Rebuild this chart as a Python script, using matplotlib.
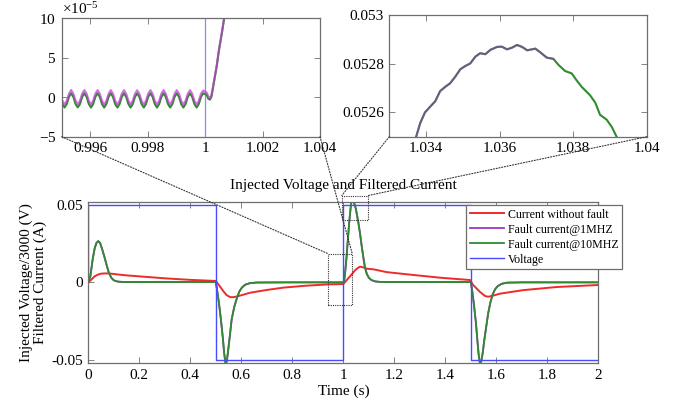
import numpy as np
import matplotlib
matplotlib.use('Agg')
import matplotlib.pyplot as plt
from matplotlib.patches import Rectangle, ConnectionPatch
from matplotlib.ticker import FormatStrFormatter, ScalarFormatter

plt.rcParams['font.family'] = ['Liberation Serif', 'DejaVu Serif']
plt.rcParams['mathtext.fontset'] = 'stix'
plt.rcParams['mathtext.default'] = 'regular'
plt.rcParams['axes.unicode_minus'] = False

# ---- main traces ----
volt_t = [0, 0, 0.5, 0.5, 1.0, 1.0, 1.5, 1.5, 2.0]
volt_v = [0, 0.05, 0.05, -0.05, -0.05, 0.05, 0.05, -0.05, -0.05]

nofault_t = [0, 0.01, 0.0235, 0.035, 0.05, 0.069, 0.09, 0.109, 0.15, 0.213, 0.3, 0.4, 0.5,
             0.51, 0.52, 0.529, 0.542, 0.556, 0.568, 0.59, 0.634, 0.7, 0.765, 0.85, 0.941, 1.0,
             1.012, 1.023, 1.033, 1.046, 1.059, 1.066, 1.08, 1.092, 1.118, 1.17, 1.249, 1.38, 1.497,
             1.508, 1.52, 1.536, 1.556, 1.568, 1.585, 1.614, 1.706, 1.837, 2.0]
nofault_v = [0, 0.0015, 0.0037, 0.0048, 0.0056, 0.0058, 0.0056, 0.0052, 0.0045, 0.0037, 0.0026, 0.0016, 0.0009,
             -0.0013, -0.0035, -0.0056, -0.0082, -0.0095, -0.0096, -0.0088, -0.0067, -0.0049, -0.0034, -0.0022, -0.0013, -0.0011,
             0.0012, 0.0033, 0.0052, 0.0078, 0.0095, 0.0101, 0.0096, 0.0088, 0.0084, 0.0066, 0.0052, 0.003, 0.0015,
             -0.0015, -0.0035, -0.0062, -0.0088, -0.0093, -0.0087, -0.0073, -0.005, -0.003, -0.0017]

fault_t = [0, 0.008, 0.017, 0.025, 0.032, 0.039, 0.046, 0.055, 0.063, 0.072, 0.08, 0.09, 0.1, 0.115, 0.14, 0.3, 0.5,
           0.505, 0.512, 0.52, 0.527, 0.533, 0.538, 0.543, 0.549, 0.556, 0.562, 0.572, 0.582, 0.592, 0.602, 0.615, 0.634, 0.66, 0.8, 1.0,
           1.003, 1.008, 1.013, 1.018, 1.023, 1.028, 1.031, 1.0337, 1.0365, 1.0392, 1.043, 1.049, 1.054, 1.059, 1.066, 1.072, 1.079,
           1.085, 1.092, 1.1, 1.11, 1.125, 1.15, 1.5,
           1.505, 1.512, 1.52, 1.526, 1.531, 1.536, 1.541, 1.547, 1.553, 1.56, 1.568, 1.576, 1.585, 1.595, 1.605, 1.62, 1.641, 1.7, 2.0]
fault_10mhz = [0, 0.004, 0.0148, 0.022, 0.0255, 0.0266, 0.0255, 0.021, 0.0165, 0.011, 0.0065, 0.003, 0.0013, 0.0005, 0.0002, 0.0002, 0.0002,
               -0.005, -0.013, -0.024, -0.035, -0.046, -0.0525, -0.051, -0.043, -0.033, -0.024, -0.016, -0.0105, -0.006, -0.0034, -0.0015, -0.0005, -0.0001, 0, 0,
               0.0005, 0.008, 0.017, 0.028, 0.0385, 0.047, 0.0512, 0.0525, 0.05287, 0.0525, 0.0508, 0.0475, 0.043, 0.0385, 0.031, 0.0235, 0.0155,
               0.0095, 0.0055, 0.003, 0.0015, 0.0006, 0.0002, 0.0002,
               -0.005, -0.014, -0.026, -0.038, -0.047, -0.0525, -0.051, -0.045, -0.037, -0.029, -0.02, -0.0135, -0.008, -0.0045, -0.0025, -0.001, -0.0002, 0, 0]
fault_1mhz = fault_10mhz  # the two fault traces coincide at this scale

# ---- zoom 1: small ripple just before t = 1 s (values in 1e-5) ----
ripple_t = list(np.linspace(0.99487, 0.99993, 67)) + [1.00005, 1.00011, 1.00017, 1.00022, 1.0003,
                                                       1.0004, 1.00048, 1.00058, 1.00066, 1.0008]
ripple_1mhz = [0.9, 0.45, -0.45, -0.9, -0.45, 0.45, 0.92, 0.45, -0.45, -0.88, -0.45, 0.45,
               0.9, 0.46, -0.44, -0.9, -0.45, 0.45, 0.9, 0.45, -0.45, -0.9, -0.46, 0.44,
               0.9, 0.45, -0.45, -0.9, -0.45, 0.45, 0.9, 0.45, -0.45, -0.9, -0.45, 0.45,
               0.88, 0.44, -0.46, -0.9, -0.45, 0.45, 0.9, 0.45, -0.45, -0.9, -0.45, 0.45,
               0.9, 0.45, -0.45, -0.9, -0.45, 0.45, 0.9, 0.45, -0.45, -0.9, -0.45, 0.45,
               0.9, 0.45, -0.45, -0.9, -0.45, 0.45, 0.85,
               0.6, 0.1, -0.1, 0.3, 1.9, 4.0, 6.0, 8.2, 10.0, 13.5]
ripple_10mhz = [0.5, 0.05, -0.85, -1.3, -0.85, 0.05, 0.5, 0.05, -0.85, -1.28, -0.85, 0.05,
                0.5, 0.06, -0.84, -1.3, -0.85, 0.05, 0.5, 0.05, -0.85, -1.3, -0.86, 0.04,
                0.5, 0.05, -0.85, -1.3, -0.85, 0.05, 0.5, 0.05, -0.85, -1.3, -0.85, 0.05,
                0.48, 0.04, -0.86, -1.3, -0.85, 0.05, 0.5, 0.05, -0.85, -1.3, -0.85, 0.05,
                0.5, 0.05, -0.85, -1.3, -0.85, 0.05, 0.5, 0.05, -0.85, -1.3, -0.85, 0.05,
                0.5, 0.05, -0.85, -1.3, -0.85, 0.05, 0.5,
                0.3, -0.2, -0.3, 0.1, 1.8, 3.9, 6.0, 8.1, 10.0, 13.5]

# ---- zoom 2: top of the fault peak after t = 1 s ----
peak_t = [1.0336, 1.03373, 1.03384, 1.03397, 1.03409, 1.03425, 1.03438, 1.03452, 1.03465, 1.03479,
          1.03493, 1.03506, 1.0352, 1.03534, 1.03547, 1.03561, 1.03575, 1.03593, 1.03606, 1.0362,
          1.03634, 1.03647, 1.03661, 1.03675, 1.03688, 1.03697, 1.03711, 1.03728, 1.03746, 1.0376,
          1.03778, 1.03796, 1.0381, 1.03823, 1.03846, 1.0386, 1.03873, 1.03891, 1.03905, 1.03918, 1.0393]
peak_v = [0.05246, 0.0525, 0.052556, 0.0526, 0.05262, 0.052646, 0.052687, 0.052705, 0.052719, 0.052746,
          0.052777, 0.05279, 0.052801, 0.052829, 0.052843, 0.052839, 0.052857, 0.052869, 0.05287, 0.052859,
          0.052866, 0.052877, 0.052869, 0.052855, 0.052859, 0.052862, 0.052846, 0.052825, 0.05282, 0.052795,
          0.05277, 0.05276, 0.05273, 0.052705, 0.05267, 0.05264, 0.05259, 0.05257, 0.05254, 0.0525, 0.05246]

RED = '#ee2b2b'
PURPLE = '#a035c0'
GREEN = '#2e8b2e'
BLUE = '#4a4aff'
FRAME = '#6e6e6e'


def style(ax):
    for s in ax.spines.values():
        s.set_color(FRAME)
        s.set_linewidth(0.9)
    ax.tick_params(direction='in', top=True, right=True, length=4, width=0.6,
                   color=FRAME, labelsize=11, pad=4)


fig = plt.figure(figsize=(6.81, 4.07), dpi=100)

# main axes
ax = fig.add_axes([0.1297, 0.1081, 0.7489, 0.3963])
ax.plot(nofault_t, nofault_v, color=RED, lw=1.4, label='Current without fault')
ax.plot(fault_t, fault_1mhz, color=PURPLE, lw=1.3, label='Fault current@1MHZ')
ax.plot(fault_t, fault_10mhz, color=GREEN, lw=1.3, label='Fault current@10MHZ')
ax.plot(volt_t, volt_v, color=BLUE, lw=1.0, label='Voltage')
ax.set_xlim(0, 2)
ax.set_ylim(-0.052, 0.052)
ax.set_xticks(np.arange(0, 2.01, 0.2))
ax.set_yticks([-0.05, 0, 0.05])
ax.xaxis.set_major_formatter(FormatStrFormatter('%g'))
ax.yaxis.set_major_formatter(FormatStrFormatter('%g'))
style(ax)
ax.set_title('Injected Voltage and Filtered Current', fontsize=11, pad=9)
ax.set_xlabel('Time (s)', fontsize=11, labelpad=2)
ax.set_ylabel('Injected Voltage/3000 (V)\nFiltered Current (A)', fontsize=11, labelpad=3,
              linespacing=1.05)
leg = ax.legend(loc='upper left', bbox_to_anchor=(0.7406, 0.9795), borderaxespad=0,
                fontsize=8.6, fancybox=False, framealpha=1, edgecolor=FRAME,
                handlelength=2.9, handletextpad=0.3, labelspacing=0.25, borderpad=0.3)
leg.get_frame().set_linewidth(0.9)

# zoom boxes on the main axes
box1 = (0.94, -0.0145, 0.095, 0.033)
box2 = (0.994, 0.040, 0.104, 0.016)
for bx in (box1, box2):
    ax.add_patch(Rectangle(bx[:2], bx[2], bx[3], fill=False, ec='#333333', lw=0.8,
                           ls=(0, (1, 1)), clip_on=False, zorder=5))

# inset 1
ax1 = fig.add_axes([0.0906, 0.6641, 0.3793, 0.2909])
ax1.plot(volt_t, volt_v, color='#8c8ce8', lw=0.9)
ax1.plot(ripple_t, np.array(ripple_10mhz) * 1e-5, color=GREEN, lw=1.5)
ax1.plot(ripple_t, np.array(ripple_1mhz) * 1e-5, color='#c040d0', lw=1.5, alpha=0.75)
ax1.set_xlim(0.995, 1.004)
ax1.set_ylim(-5e-5, 10e-5)
ax1.set_xticks([0.996, 0.998, 1.0, 1.002, 1.004])
ax1.set_yticks([-5e-5, 0, 5e-5, 10e-5])
ax1.xaxis.set_major_formatter(FormatStrFormatter('%g'))
sf = ScalarFormatter(useMathText=True)
sf.set_powerlimits((-5, -5))
ax1.yaxis.set_major_formatter(sf)
ax1.yaxis.get_offset_text().set_fontsize(11)
style(ax1)

# inset 2
ax2 = fig.add_axes([0.5717, 0.6641, 0.378, 0.299])
ax2.plot(peak_t, peak_v, color=GREEN, lw=1.5)
ax2.plot(peak_t[:29], peak_v[:29], color=PURPLE, lw=1.5, alpha=0.55)
ax2.set_xlim(1.033, 1.04)
ax2.set_ylim(0.0525, 0.053)
ax2.set_xticks([1.034, 1.036, 1.038, 1.04])
ax2.set_yticks([0.0526, 0.0528, 0.053])
ax2.xaxis.set_major_formatter(FormatStrFormatter('%g'))
ax2.yaxis.set_major_formatter(FormatStrFormatter('%g'))
style(ax2)

# dotted connectors from inset corners to zoom boxes
for axi, bx in ((ax1, box1), (ax2, box2)):
    top = bx[1] + bx[3]
    for corner, xb in (((0, 0), bx[0]), ((1, 0), bx[0] + bx[2])):
        con = ConnectionPatch(xyA=corner, coordsA=axi.transAxes, xyB=(xb, top),
                              coordsB=ax.transData, color='#333333', lw=0.8,
                              ls=(0, (1, 1.5)), zorder=6)
        fig.add_artist(con)

fig.savefig('out.png', dpi=100)
